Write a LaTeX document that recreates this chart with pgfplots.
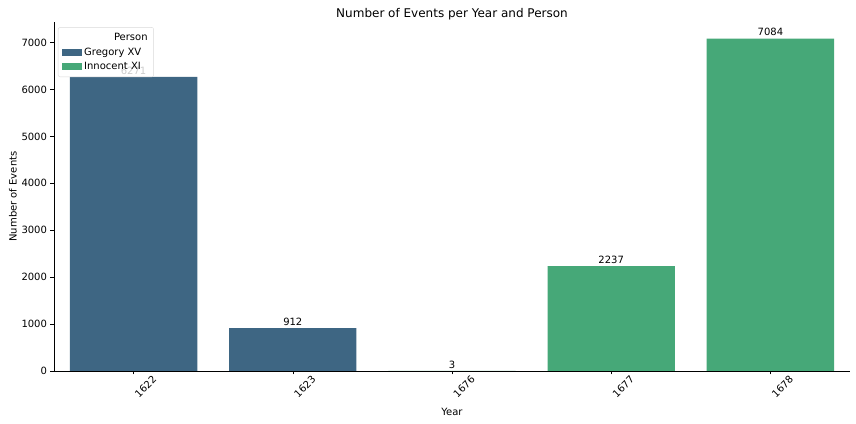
\documentclass[border=0pt]{standalone}
\usepackage{fontspec}
\setmainfont{DejaVu Sans}
\usepackage{pgfplots}
\pgfplotsset{compat=1.18}
\definecolor{greg}{HTML}{3E6683}
\definecolor{inno}{HTML}{46A878}
\pgfplotsset{myleg/.style={legend image code/.code={\fill[##1, draw=none, sharp corners, fill opacity=1] (0pt,-3.5pt) rectangle (20pt,3.5pt);}}}
\begin{document}
\begin{tikzpicture}
\begin{axis}[
  scale only axis, width=796pt, height=349pt,
  xmin=-0.5, xmax=4.5, ymin=0, ymax=7438,
  axis x line*=bottom, axis y line*=left,
  xtick={0,1,2,3,4}, xticklabels={1622,1623,1676,1677,1678},
  xticklabel style={rotate=45, anchor=center, font=\fontsize{10}{11}\selectfont, yshift=-17pt},
  ytick={0,1000,2000,3000,4000,5000,6000,7000},
  yticklabel style={font=\fontsize{10}{11}\selectfont},
  /pgf/number format/assume math mode=true,
  scaled y ticks=false,
  yticklabel={\pgfmathprintnumber[1000 sep={}]{\tick}},
  tick style={black, thin}, major tick length=3.5pt,
  tick align=outside,
  axis line style={black, thin},
  xlabel={Year}, ylabel={Number of Events},
  xlabel style={font=\fontsize{10}{11}\selectfont, yshift=-2pt},
  ylabel style={font=\fontsize{10}{11}\selectfont, yshift=-2pt},
  title={Number of Events per Year and Person},
  title style={font=\fontsize{12}{13}\selectfont, yshift=-8pt},
  ybar, bar width=0.8, bar shift=0pt,
  nodes near coords={\pgfmathprintnumber[1000 sep={}]{\pgfplotspointmeta}},
  nodes near coords style={font=\fontsize{10}{11}\selectfont, black, yshift=-1pt},
  legend style={at={(rel axis cs:0.005,0.985)}, anchor=north west, draw=black!15, rounded corners=2pt, fill=white, fill opacity=0.8, text opacity=1, draw opacity=1, font=\fontsize{10}{11}\selectfont, row sep=1.5pt, inner sep=4pt},
  legend cell align=left,
]
\addlegendimage{empty legend}
\addlegendentry{\hspace{1.05cm}Person}
\addplot[fill=greg, draw=none, myleg] coordinates {(0,6271) (1,912)};
\addlegendentry{Gregory XV}
\addplot[fill=inno, draw=none, myleg] coordinates {(2,3) (3,2237) (4,7084)};
\addlegendentry{Innocent XI}
\end{axis}
\pgfresetboundingbox
\path (current axis.south west) ++(-54pt,-53pt) coordinate (a);
\path (current axis.north east) ++(6pt,22pt) coordinate (b);
\path[use as bounding box] (a) rectangle (b);
\end{tikzpicture}
\end{document}
